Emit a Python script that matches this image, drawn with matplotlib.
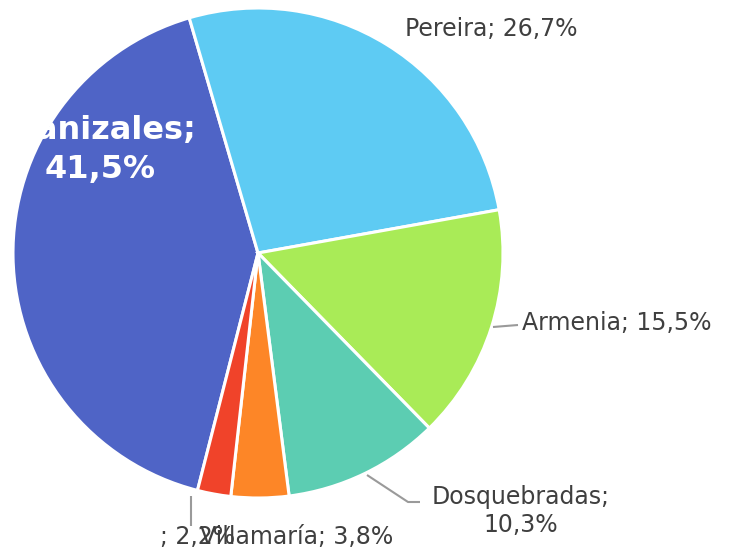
import matplotlib
matplotlib.use("Agg")
import matplotlib.pyplot as plt

# data (clockwise, starting with Manizales)
names = ["Manizales", "Pereira", "Armenia", "Dosquebradas", "Villamaría", ""]
shares = [41.5, 26.7, 15.5, 10.3, 3.8, 2.2]
colors = ["#4f64c6", "#5ecbf3", "#a9eb57", "#5ccdb2", "#fd8627", "#f0432a"]

plt.rcParams['font.family'] = ['DejaVu Sans']

fig = plt.figure(figsize=(7.31, 5.53), dpi=100)
W, H = 731, 553
cx, cy, R = 258, 253, 245
ax = fig.add_axes([(cx - R) / W, (H - cy - R) / H, 2 * R / W, 2 * R / H])

# first slice (Manizales) starts 194.3 deg clockwise from 12 o'clock
ax.pie(shares, colors=colors, startangle=90 - 194.3, counterclock=False,
       radius=1, wedgeprops=dict(edgecolor="white", linewidth=2.2))
ax.set_xlim(-1, 1)
ax.set_ylim(-1, 1)
ax.set_aspect("equal")
ax.axis("off")

def fmt(v):
    return f"{v:.1f}".replace(".", ",") + "%"

txt_col = "#3f3f3f"
line_col = "#9a9a9a"

def px(x, y):
    return ((x - cx) / R, (cy - y) / R)

# leader lines (pixel paths from the reference layout)
leaders = {
    2: [(493, 327), (518, 325)],
    3: [(367, 475), (408, 502), (420, 502)],
    5: [(191, 496), (191, 526)],
}
for i, path in leaders.items():
    pts = [px(*p) for p in path]
    ax.plot([p[0] for p in pts], [p[1] for p in pts], color=line_col, lw=1.5,
            clip_on=False, solid_capstyle="butt")

# labels
lab = [f"{n}; {fmt(v)}" for n, v in zip(names, shares)]
x, y = px(100, 150)
ax.text(x, y, "Manizales;\n" + fmt(shares[0]), color="white", fontsize=23,
        fontweight="bold", ha="center", va="center", linespacing=1.3, clip_on=False)
x, y = px(491, 29)
ax.text(x, y, lab[1], color=txt_col, fontsize=17, ha="center", va="center")
x, y = px(522, 323)
ax.text(x, y, lab[2], color=txt_col, fontsize=17, ha="left", va="center")
x, y = px(521, 511)
ax.text(x, y, f"{names[3]};\n{fmt(shares[3])}", color=txt_col, fontsize=17,
        ha="center", va="center", linespacing=1.25)
x, y = px(297, 537)
ax.text(x, y, lab[4], color=txt_col, fontsize=17, ha="center", va="center")
x, y = px(198, 537)
ax.text(x, y, lab[5], color=txt_col, fontsize=17, ha="center", va="center")

fig.savefig("out.png", dpi=100)
